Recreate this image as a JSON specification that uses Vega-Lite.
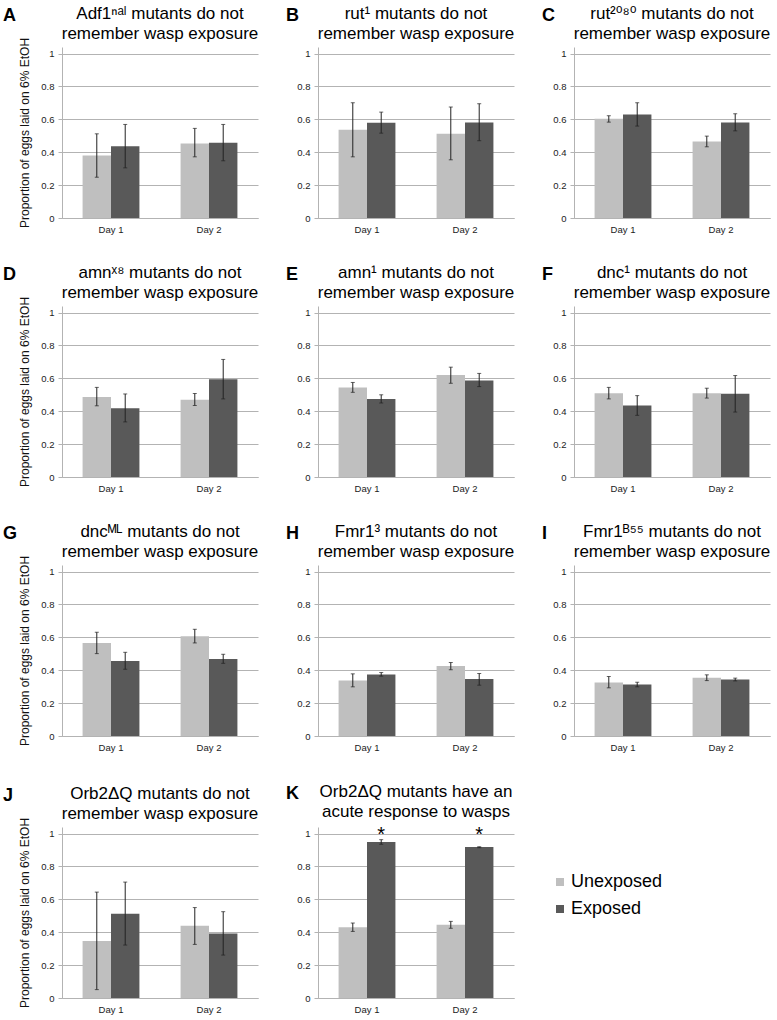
{
  "$schema": "https://vega.github.io/schema/vega-lite/v6.json",
  "background": "white",
  "padding": {"left": 3, "top": 5, "right": 3, "bottom": 1},
  "datasets": {
    "d": [
      {"panel": "A", "day": "Day 1", "group": "Unexposed", "value": 0.38, "lo": 0.248, "hi": 0.512},
      {"panel": "A", "day": "Day 1", "group": "Exposed", "value": 0.437, "lo": 0.305, "hi": 0.569},
      {"panel": "A", "day": "Day 2", "group": "Unexposed", "value": 0.453, "lo": 0.372, "hi": 0.545},
      {"panel": "A", "day": "Day 2", "group": "Exposed", "value": 0.457, "lo": 0.348, "hi": 0.569},
      {"panel": "B", "day": "Day 1", "group": "Unexposed", "value": 0.537, "lo": 0.372, "hi": 0.701},
      {"panel": "B", "day": "Day 1", "group": "Exposed", "value": 0.579, "lo": 0.516, "hi": 0.644},
      {"panel": "B", "day": "Day 2", "group": "Unexposed", "value": 0.512, "lo": 0.354, "hi": 0.675},
      {"panel": "B", "day": "Day 2", "group": "Exposed", "value": 0.581, "lo": 0.47, "hi": 0.695},
      {"panel": "C", "day": "Day 1", "group": "Unexposed", "value": 0.604, "lo": 0.583, "hi": 0.622},
      {"panel": "C", "day": "Day 1", "group": "Exposed", "value": 0.63, "lo": 0.559, "hi": 0.701},
      {"panel": "C", "day": "Day 2", "group": "Unexposed", "value": 0.465, "lo": 0.433, "hi": 0.498},
      {"panel": "C", "day": "Day 2", "group": "Exposed", "value": 0.581, "lo": 0.53, "hi": 0.634},
      {"panel": "D", "day": "Day 1", "group": "Unexposed", "value": 0.487, "lo": 0.433, "hi": 0.545},
      {"panel": "D", "day": "Day 1", "group": "Exposed", "value": 0.418, "lo": 0.335, "hi": 0.505},
      {"panel": "D", "day": "Day 2", "group": "Unexposed", "value": 0.47, "lo": 0.435, "hi": 0.508},
      {"panel": "D", "day": "Day 2", "group": "Exposed", "value": 0.594, "lo": 0.475, "hi": 0.715},
      {"panel": "E", "day": "Day 1", "group": "Unexposed", "value": 0.545, "lo": 0.515, "hi": 0.575},
      {"panel": "E", "day": "Day 1", "group": "Exposed", "value": 0.475, "lo": 0.45, "hi": 0.5},
      {"panel": "E", "day": "Day 2", "group": "Unexposed", "value": 0.62, "lo": 0.57, "hi": 0.668},
      {"panel": "E", "day": "Day 2", "group": "Exposed", "value": 0.587, "lo": 0.55, "hi": 0.63},
      {"panel": "F", "day": "Day 1", "group": "Unexposed", "value": 0.51, "lo": 0.475, "hi": 0.545},
      {"panel": "F", "day": "Day 1", "group": "Exposed", "value": 0.435, "lo": 0.375, "hi": 0.495},
      {"panel": "F", "day": "Day 2", "group": "Unexposed", "value": 0.51, "lo": 0.48, "hi": 0.54},
      {"panel": "F", "day": "Day 2", "group": "Exposed", "value": 0.506, "lo": 0.395, "hi": 0.617},
      {"panel": "G", "day": "Day 1", "group": "Unexposed", "value": 0.566, "lo": 0.501, "hi": 0.631},
      {"panel": "G", "day": "Day 1", "group": "Exposed", "value": 0.456, "lo": 0.406, "hi": 0.509},
      {"panel": "G", "day": "Day 2", "group": "Unexposed", "value": 0.606, "lo": 0.566, "hi": 0.649},
      {"panel": "G", "day": "Day 2", "group": "Exposed", "value": 0.469, "lo": 0.442, "hi": 0.497},
      {"panel": "H", "day": "Day 1", "group": "Unexposed", "value": 0.337, "lo": 0.299, "hi": 0.378},
      {"panel": "H", "day": "Day 1", "group": "Exposed", "value": 0.374, "lo": 0.364, "hi": 0.386},
      {"panel": "H", "day": "Day 2", "group": "Unexposed", "value": 0.425, "lo": 0.403, "hi": 0.447},
      {"panel": "H", "day": "Day 2", "group": "Exposed", "value": 0.346, "lo": 0.309, "hi": 0.38},
      {"panel": "I", "day": "Day 1", "group": "Unexposed", "value": 0.325, "lo": 0.293, "hi": 0.362},
      {"panel": "I", "day": "Day 1", "group": "Exposed", "value": 0.313, "lo": 0.299, "hi": 0.327},
      {"panel": "I", "day": "Day 2", "group": "Unexposed", "value": 0.354, "lo": 0.337, "hi": 0.372},
      {"panel": "I", "day": "Day 2", "group": "Exposed", "value": 0.343, "lo": 0.335, "hi": 0.352},
      {"panel": "J", "day": "Day 1", "group": "Unexposed", "value": 0.346, "lo": 0.051, "hi": 0.644},
      {"panel": "J", "day": "Day 1", "group": "Exposed", "value": 0.513, "lo": 0.322, "hi": 0.705},
      {"panel": "J", "day": "Day 2", "group": "Unexposed", "value": 0.44, "lo": 0.326, "hi": 0.55},
      {"panel": "J", "day": "Day 2", "group": "Exposed", "value": 0.393, "lo": 0.261, "hi": 0.525},
      {"panel": "K", "day": "Day 1", "group": "Unexposed", "value": 0.43, "lo": 0.405, "hi": 0.456},
      {"panel": "K", "day": "Day 1", "group": "Exposed", "value": 0.949, "lo": 0.935, "hi": 0.963, "sig": "*"},
      {"panel": "K", "day": "Day 2", "group": "Unexposed", "value": 0.446, "lo": 0.424, "hi": 0.466},
      {"panel": "K", "day": "Day 2", "group": "Exposed", "value": 0.918, "lo": 0.914, "hi": 0.92, "sig": "*"}
    ]
  },
  "data": {"name": "d"},
  "config": {
    "font": "Liberation Sans",
    "view": {"stroke": null},
    "title": {"font": "Liberation Sans, DejaVu Sans", "fontSize": 17, "fontWeight": "normal", "color": "#000", "lineHeight": 20, "offset": 4, "anchor": "middle", "frame": "group"},
    "axisX": {"labelAngle": 0, "title": null, "domainColor": "#b3b3b3", "ticks": false, "labelFontSize": 9.5, "labelColor": "#222", "labelPadding": 6, "grid": false},
    "axisY": {"gridColor": "#b3b3b3", "domainColor": "#b3b3b3", "tickColor": "#b3b3b3", "tickSize": 4, "labelFontSize": 9.5, "labelColor": "#222", "labelPadding": 4, "titleFontSize": 12, "titleFontWeight": "normal", "titleColor": "#111", "titlePadding": 9, "grid": true, "tickCount": 10},
    "tick": {"color": "#222", "thickness": 1, "size": 4},
    "rule": {"color": "#222", "strokeWidth": 1}
  },
  "spacing": 30,
  "vconcat": [
    {"spacing": 27, "hconcat": [
      {"title": {"text": "A", "font": "Liberation Sans", "anchor": "start", "frame": "group", "fontSize": 18, "fontWeight": "bold", "dx": -59, "offset": -20},
       "vconcat": [{
        "width": 196, "height": 171,
        "title": {"text": ["Adf1ⁿᵃˡ mutants do not", "remember wasp exposure"], "offset": -6},
        "transform": [{"filter": "datum.panel === 'A'"}],
        "encoding": {
          "x": {"field": "day", "type": "nominal", "scale": {"paddingInner": 0.42, "paddingOuter": 0.21}},
          "xOffset": {"field": "group", "type": "nominal", "sort": ["Unexposed", "Exposed"], "scale": {"paddingInner": 0, "paddingOuter": 0}}
        },
        "layer": [
          {"mark": "bar", "encoding": {"y": {"field": "value", "type": "quantitative", "scale": {"domain": [0, 1.04], "nice": false}, "axis": {"values": [0, 0.2, 0.4, 0.6, 0.8, 1], "tickCount": 10, "format": "~g", "title": "Proportion of eggs laid on 6% EtOH"}}, "color": {"field": "group", "type": "nominal", "scale": {"domain": ["Unexposed", "Exposed"], "range": ["#bfbfbf", "#595959"]}, "legend": null}}},
          {"mark": "rule", "encoding": {"y": {"field": "lo", "type": "quantitative"}, "y2": {"field": "hi"}}},
          {"mark": "tick", "encoding": {"y": {"field": "lo", "type": "quantitative"}}},
          {"mark": "tick", "encoding": {"y": {"field": "hi", "type": "quantitative"}}}
        ]
      }]},
      {"title": {"text": "B", "font": "Liberation Sans", "anchor": "start", "frame": "group", "fontSize": 18, "fontWeight": "bold", "dx": -32, "offset": -20},
       "vconcat": [{
        "width": 196, "height": 171,
        "title": {"text": ["rut¹ mutants do not", "remember wasp exposure"]},
        "transform": [{"filter": "datum.panel === 'B'"}],
        "encoding": {
          "x": {"field": "day", "type": "nominal", "scale": {"paddingInner": 0.42, "paddingOuter": 0.21}},
          "xOffset": {"field": "group", "type": "nominal", "sort": ["Unexposed", "Exposed"], "scale": {"paddingInner": 0, "paddingOuter": 0}}
        },
        "layer": [
          {"mark": "bar", "encoding": {"y": {"field": "value", "type": "quantitative", "scale": {"domain": [0, 1.04], "nice": false}, "axis": {"values": [0, 0.2, 0.4, 0.6, 0.8, 1], "tickCount": 10, "format": "~g", "title": null}}, "color": {"field": "group", "type": "nominal", "scale": {"domain": ["Unexposed", "Exposed"], "range": ["#bfbfbf", "#595959"]}, "legend": null}}},
          {"mark": "rule", "encoding": {"y": {"field": "lo", "type": "quantitative"}, "y2": {"field": "hi"}}},
          {"mark": "tick", "encoding": {"y": {"field": "lo", "type": "quantitative"}}},
          {"mark": "tick", "encoding": {"y": {"field": "hi", "type": "quantitative"}}}
        ]
      }]},
      {"title": {"text": "C", "font": "Liberation Sans", "anchor": "start", "frame": "group", "fontSize": 18, "fontWeight": "bold", "dx": -32, "offset": -20},
       "vconcat": [{
        "width": 196, "height": 171,
        "title": {"text": ["rut²⁰⁸⁰ mutants do not", "remember wasp exposure"]},
        "transform": [{"filter": "datum.panel === 'C'"}],
        "encoding": {
          "x": {"field": "day", "type": "nominal", "scale": {"paddingInner": 0.42, "paddingOuter": 0.21}},
          "xOffset": {"field": "group", "type": "nominal", "sort": ["Unexposed", "Exposed"], "scale": {"paddingInner": 0, "paddingOuter": 0}}
        },
        "layer": [
          {"mark": "bar", "encoding": {"y": {"field": "value", "type": "quantitative", "scale": {"domain": [0, 1.04], "nice": false}, "axis": {"values": [0, 0.2, 0.4, 0.6, 0.8, 1], "tickCount": 10, "format": "~g", "title": null}}, "color": {"field": "group", "type": "nominal", "scale": {"domain": ["Unexposed", "Exposed"], "range": ["#bfbfbf", "#595959"]}, "legend": null}}},
          {"mark": "rule", "encoding": {"y": {"field": "lo", "type": "quantitative"}, "y2": {"field": "hi"}}},
          {"mark": "tick", "encoding": {"y": {"field": "lo", "type": "quantitative"}}},
          {"mark": "tick", "encoding": {"y": {"field": "hi", "type": "quantitative"}}}
        ]
      }]}
    ]},
    {"spacing": 27, "hconcat": [
      {"title": {"text": "D", "font": "Liberation Sans", "anchor": "start", "frame": "group", "fontSize": 18, "fontWeight": "bold", "dx": -59, "offset": -20},
       "vconcat": [{
        "width": 196, "height": 171,
        "title": {"text": ["amnˣ⁸ mutants do not", "remember wasp exposure"], "offset": -6},
        "transform": [{"filter": "datum.panel === 'D'"}],
        "encoding": {
          "x": {"field": "day", "type": "nominal", "scale": {"paddingInner": 0.42, "paddingOuter": 0.21}},
          "xOffset": {"field": "group", "type": "nominal", "sort": ["Unexposed", "Exposed"], "scale": {"paddingInner": 0, "paddingOuter": 0}}
        },
        "layer": [
          {"mark": "bar", "encoding": {"y": {"field": "value", "type": "quantitative", "scale": {"domain": [0, 1.04], "nice": false}, "axis": {"values": [0, 0.2, 0.4, 0.6, 0.8, 1], "tickCount": 10, "format": "~g", "title": "Proportion of eggs laid on 6% EtOH"}}, "color": {"field": "group", "type": "nominal", "scale": {"domain": ["Unexposed", "Exposed"], "range": ["#bfbfbf", "#595959"]}, "legend": null}}},
          {"mark": "rule", "encoding": {"y": {"field": "lo", "type": "quantitative"}, "y2": {"field": "hi"}}},
          {"mark": "tick", "encoding": {"y": {"field": "lo", "type": "quantitative"}}},
          {"mark": "tick", "encoding": {"y": {"field": "hi", "type": "quantitative"}}}
        ]
      }]},
      {"title": {"text": "E", "font": "Liberation Sans", "anchor": "start", "frame": "group", "fontSize": 18, "fontWeight": "bold", "dx": -32, "offset": -20},
       "vconcat": [{
        "width": 196, "height": 171,
        "title": {"text": ["amn¹ mutants do not", "remember wasp exposure"]},
        "transform": [{"filter": "datum.panel === 'E'"}],
        "encoding": {
          "x": {"field": "day", "type": "nominal", "scale": {"paddingInner": 0.42, "paddingOuter": 0.21}},
          "xOffset": {"field": "group", "type": "nominal", "sort": ["Unexposed", "Exposed"], "scale": {"paddingInner": 0, "paddingOuter": 0}}
        },
        "layer": [
          {"mark": "bar", "encoding": {"y": {"field": "value", "type": "quantitative", "scale": {"domain": [0, 1.04], "nice": false}, "axis": {"values": [0, 0.2, 0.4, 0.6, 0.8, 1], "tickCount": 10, "format": "~g", "title": null}}, "color": {"field": "group", "type": "nominal", "scale": {"domain": ["Unexposed", "Exposed"], "range": ["#bfbfbf", "#595959"]}, "legend": null}}},
          {"mark": "rule", "encoding": {"y": {"field": "lo", "type": "quantitative"}, "y2": {"field": "hi"}}},
          {"mark": "tick", "encoding": {"y": {"field": "lo", "type": "quantitative"}}},
          {"mark": "tick", "encoding": {"y": {"field": "hi", "type": "quantitative"}}}
        ]
      }]},
      {"title": {"text": "F", "font": "Liberation Sans", "anchor": "start", "frame": "group", "fontSize": 18, "fontWeight": "bold", "dx": -32, "offset": -20},
       "vconcat": [{
        "width": 196, "height": 171,
        "title": {"text": ["dnc¹ mutants do not", "remember wasp exposure"]},
        "transform": [{"filter": "datum.panel === 'F'"}],
        "encoding": {
          "x": {"field": "day", "type": "nominal", "scale": {"paddingInner": 0.42, "paddingOuter": 0.21}},
          "xOffset": {"field": "group", "type": "nominal", "sort": ["Unexposed", "Exposed"], "scale": {"paddingInner": 0, "paddingOuter": 0}}
        },
        "layer": [
          {"mark": "bar", "encoding": {"y": {"field": "value", "type": "quantitative", "scale": {"domain": [0, 1.04], "nice": false}, "axis": {"values": [0, 0.2, 0.4, 0.6, 0.8, 1], "tickCount": 10, "format": "~g", "title": null}}, "color": {"field": "group", "type": "nominal", "scale": {"domain": ["Unexposed", "Exposed"], "range": ["#bfbfbf", "#595959"]}, "legend": null}}},
          {"mark": "rule", "encoding": {"y": {"field": "lo", "type": "quantitative"}, "y2": {"field": "hi"}}},
          {"mark": "tick", "encoding": {"y": {"field": "lo", "type": "quantitative"}}},
          {"mark": "tick", "encoding": {"y": {"field": "hi", "type": "quantitative"}}}
        ]
      }]}
    ]},
    {"spacing": 27, "hconcat": [
      {"title": {"text": "G", "font": "Liberation Sans", "anchor": "start", "frame": "group", "fontSize": 18, "fontWeight": "bold", "dx": -59, "offset": -20},
       "vconcat": [{
        "width": 196, "height": 171,
        "title": {"text": ["dncᴹᴸ mutants do not", "remember wasp exposure"], "offset": -6},
        "transform": [{"filter": "datum.panel === 'G'"}],
        "encoding": {
          "x": {"field": "day", "type": "nominal", "scale": {"paddingInner": 0.42, "paddingOuter": 0.21}},
          "xOffset": {"field": "group", "type": "nominal", "sort": ["Unexposed", "Exposed"], "scale": {"paddingInner": 0, "paddingOuter": 0}}
        },
        "layer": [
          {"mark": "bar", "encoding": {"y": {"field": "value", "type": "quantitative", "scale": {"domain": [0, 1.04], "nice": false}, "axis": {"values": [0, 0.2, 0.4, 0.6, 0.8, 1], "tickCount": 10, "format": "~g", "title": "Proportion of eggs laid on 6% EtOH"}}, "color": {"field": "group", "type": "nominal", "scale": {"domain": ["Unexposed", "Exposed"], "range": ["#bfbfbf", "#595959"]}, "legend": null}}},
          {"mark": "rule", "encoding": {"y": {"field": "lo", "type": "quantitative"}, "y2": {"field": "hi"}}},
          {"mark": "tick", "encoding": {"y": {"field": "lo", "type": "quantitative"}}},
          {"mark": "tick", "encoding": {"y": {"field": "hi", "type": "quantitative"}}}
        ]
      }]},
      {"title": {"text": "H", "font": "Liberation Sans", "anchor": "start", "frame": "group", "fontSize": 18, "fontWeight": "bold", "dx": -32, "offset": -20},
       "vconcat": [{
        "width": 196, "height": 171,
        "title": {"text": ["Fmr1³ mutants do not", "remember wasp exposure"]},
        "transform": [{"filter": "datum.panel === 'H'"}],
        "encoding": {
          "x": {"field": "day", "type": "nominal", "scale": {"paddingInner": 0.42, "paddingOuter": 0.21}},
          "xOffset": {"field": "group", "type": "nominal", "sort": ["Unexposed", "Exposed"], "scale": {"paddingInner": 0, "paddingOuter": 0}}
        },
        "layer": [
          {"mark": "bar", "encoding": {"y": {"field": "value", "type": "quantitative", "scale": {"domain": [0, 1.04], "nice": false}, "axis": {"values": [0, 0.2, 0.4, 0.6, 0.8, 1], "tickCount": 10, "format": "~g", "title": null}}, "color": {"field": "group", "type": "nominal", "scale": {"domain": ["Unexposed", "Exposed"], "range": ["#bfbfbf", "#595959"]}, "legend": null}}},
          {"mark": "rule", "encoding": {"y": {"field": "lo", "type": "quantitative"}, "y2": {"field": "hi"}}},
          {"mark": "tick", "encoding": {"y": {"field": "lo", "type": "quantitative"}}},
          {"mark": "tick", "encoding": {"y": {"field": "hi", "type": "quantitative"}}}
        ]
      }]},
      {"title": {"text": "I", "font": "Liberation Sans", "anchor": "start", "frame": "group", "fontSize": 18, "fontWeight": "bold", "dx": -32, "offset": -20},
       "vconcat": [{
        "width": 196, "height": 171,
        "title": {"text": ["Fmr1ᴮ⁵⁵ mutants do not", "remember wasp exposure"]},
        "transform": [{"filter": "datum.panel === 'I'"}],
        "encoding": {
          "x": {"field": "day", "type": "nominal", "scale": {"paddingInner": 0.42, "paddingOuter": 0.21}},
          "xOffset": {"field": "group", "type": "nominal", "sort": ["Unexposed", "Exposed"], "scale": {"paddingInner": 0, "paddingOuter": 0}}
        },
        "layer": [
          {"mark": "bar", "encoding": {"y": {"field": "value", "type": "quantitative", "scale": {"domain": [0, 1.04], "nice": false}, "axis": {"values": [0, 0.2, 0.4, 0.6, 0.8, 1], "tickCount": 10, "format": "~g", "title": null}}, "color": {"field": "group", "type": "nominal", "scale": {"domain": ["Unexposed", "Exposed"], "range": ["#bfbfbf", "#595959"]}, "legend": null}}},
          {"mark": "rule", "encoding": {"y": {"field": "lo", "type": "quantitative"}, "y2": {"field": "hi"}}},
          {"mark": "tick", "encoding": {"y": {"field": "lo", "type": "quantitative"}}},
          {"mark": "tick", "encoding": {"y": {"field": "hi", "type": "quantitative"}}}
        ]
      }]}
    ]},
    {"spacing": 27, "hconcat": [
      {"title": {"text": "J", "font": "Liberation Sans", "anchor": "start", "frame": "group", "fontSize": 18, "fontWeight": "bold", "dx": -59, "offset": -20},
       "vconcat": [{
        "width": 196, "height": 171,
        "title": {"text": ["Orb2ΔQ  mutants do not", "remember wasp exposure"], "offset": -6},
        "transform": [{"filter": "datum.panel === 'J'"}],
        "encoding": {
          "x": {"field": "day", "type": "nominal", "scale": {"paddingInner": 0.42, "paddingOuter": 0.21}},
          "xOffset": {"field": "group", "type": "nominal", "sort": ["Unexposed", "Exposed"], "scale": {"paddingInner": 0, "paddingOuter": 0}}
        },
        "layer": [
          {"mark": "bar", "encoding": {"y": {"field": "value", "type": "quantitative", "scale": {"domain": [0, 1.04], "nice": false}, "axis": {"values": [0, 0.2, 0.4, 0.6, 0.8, 1], "tickCount": 10, "format": "~g", "title": "Proportion of eggs laid on 6% EtOH"}}, "color": {"field": "group", "type": "nominal", "scale": {"domain": ["Unexposed", "Exposed"], "range": ["#bfbfbf", "#595959"]}, "legend": null}}},
          {"mark": "rule", "encoding": {"y": {"field": "lo", "type": "quantitative"}, "y2": {"field": "hi"}}},
          {"mark": "tick", "encoding": {"y": {"field": "lo", "type": "quantitative"}}},
          {"mark": "tick", "encoding": {"y": {"field": "hi", "type": "quantitative"}}}
        ]
      }]},
      {"title": {"text": "K", "font": "Liberation Sans", "anchor": "start", "frame": "group", "fontSize": 18, "fontWeight": "bold", "dx": -32, "offset": -20},
       "resolve": {"legend": {"color": "independent"}},
       "vconcat": [{
        "width": 196, "height": 171,
        "title": {"text": ["Orb2ΔQ  mutants have an", "acute response to wasps"]},
        "transform": [{"filter": "datum.panel === 'K'"}],
        "encoding": {
          "x": {"field": "day", "type": "nominal", "scale": {"paddingInner": 0.42, "paddingOuter": 0.21}},
          "xOffset": {"field": "group", "type": "nominal", "sort": ["Unexposed", "Exposed"], "scale": {"paddingInner": 0, "paddingOuter": 0}}
        },
        "layer": [
          {"mark": "bar", "encoding": {"y": {"field": "value", "type": "quantitative", "scale": {"domain": [0, 1.04], "nice": false}, "axis": {"values": [0, 0.2, 0.4, 0.6, 0.8, 1], "tickCount": 10, "format": "~g", "title": null}}, "color": {"field": "group", "type": "nominal", "scale": {"domain": ["Unexposed", "Exposed"], "range": ["#bfbfbf", "#595959"]}, "legend": {"orient": "none", "legendX": 233, "legendY": 46, "title": null, "symbolType": "square", "symbolSize": 64, "symbolStrokeWidth": 0, "labelFontSize": 18, "labelColor": "#000", "rowPadding": 9, "labelOffset": 2}}}},
          {"mark": "rule", "encoding": {"y": {"field": "lo", "type": "quantitative"}, "y2": {"field": "hi"}}},
          {"mark": "tick", "encoding": {"y": {"field": "lo", "type": "quantitative"}}},
          {"mark": "tick", "encoding": {"y": {"field": "hi", "type": "quantitative"}}},
          {"transform": [{"filter": "datum.sig"}], "mark": {"type": "text", "fontSize": 20, "baseline": "middle", "dy": 1}, "encoding": {"y": {"datum": 1}, "text": {"field": "sig"}}}
        ]
      }]}
    ], "resolve": {"legend": {"color": "independent"}}}
  ],
  "resolve": {"legend": {"color": "independent"}}
}
